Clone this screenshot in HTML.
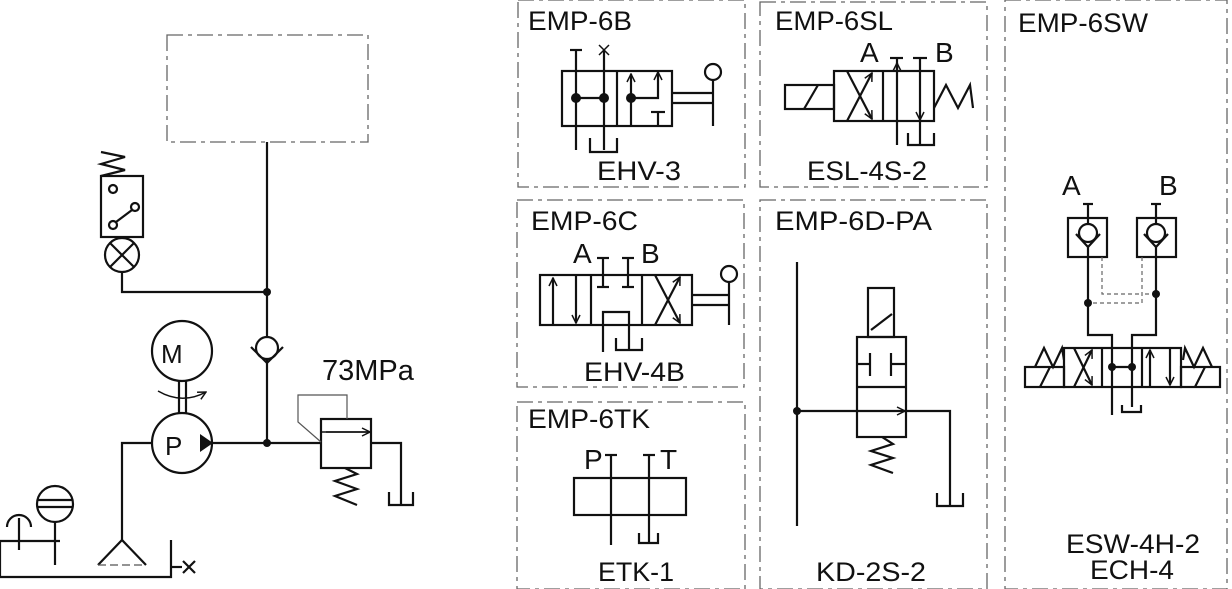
<!DOCTYPE html>
<html><head><meta charset="utf-8"><style>
html,body{margin:0;padding:0;background:#fff}
svg{display:block}
text{font-family:"Liberation Sans",sans-serif;fill:#111}
</style></head><body>
<svg width="1232" height="589" viewBox="0 0 1232 589" xmlns="http://www.w3.org/2000/svg">
<defs>
<marker id="ar" markerWidth="10" markerHeight="10" refX="9" refY="5" orient="auto" markerUnits="userSpaceOnUse"><path d="M1,1 L9,5 L1,9" fill="none" stroke="#111" stroke-width="1.5"/></marker>
</defs>
<g fill="none" stroke="#666" stroke-width="1.3" stroke-dasharray="16,5,4,5">
<rect x="167" y="35" width="201" height="107"/>
<rect x="518" y="0" width="227" height="187"/>
<rect x="760" y="2" width="227" height="185"/>
<rect x="1005" y="0" width="222" height="589"/>
<rect x="517" y="200" width="227" height="187"/>
<rect x="517" y="402" width="228" height="187"/>
<rect x="760" y="200" width="227" height="389"/>
</g>
<g fill="none" stroke="#111" stroke-width="2.2">
<line x1="267" y1="142" x2="267" y2="336"/>
<line x1="267" y1="360" x2="267" y2="443"/>
<polyline points="122,272 122,292 267,292"/>
<circle cx="122" cy="255" r="17"/>
<line x1="110" y1="243" x2="134" y2="267"/><line x1="134" y1="243" x2="110" y2="267"/>
<rect x="101" y="176" width="42" height="61"/>
<polyline points="101,152 125,157 101,164 125,170 101,176"/>
<circle cx="113" cy="189" r="4"/><circle cx="135" cy="207" r="4"/><circle cx="113" cy="225" r="4"/>
<line x1="116" y1="222" x2="132" y2="210"/>
<circle cx="267" cy="348" r="11"/>
<polyline points="251,347 267,363 283,347"/>
<circle cx="182" cy="351" r="30"/>
<line x1="179" y1="381" x2="179" y2="413"/><line x1="186" y1="381" x2="186" y2="413"/>
<path d="M158,391 Q182,405 206,392" marker-end="url(#ar)" stroke-width="1.5"/>
<circle cx="182" cy="443" r="30"/>
<line x1="212" y1="443" x2="321" y2="443"/>
<polyline points="152,443 122,443 122,540"/>
<polyline points="98,565 122,540 146,565"/>
<rect x="321" y="419" width="50" height="49"/>
<line x1="321" y1="432" x2="371" y2="432" stroke-width="1.5"/>
<line x1="326" y1="432" x2="370" y2="432" marker-end="url(#ar)" stroke-width="1.5"/>
<polyline points="371,443 401,443 401,505"/>
<polyline points="389,492 389,505 413,505 413,492"/>
<polyline points="345,468 357,474 335,481 357,489 335,496 357,505"/>
<polyline points="0,577 0,541 60,541"/>
<polyline points="0,577 171,577 171,540"/>
<line x1="171" y1="567" x2="182" y2="567"/>
<line x1="183" y1="561" x2="195" y2="573"/><line x1="195" y1="561" x2="183" y2="573"/>
<path d="M7,527 A12,12 0 0 1 31,527"/>
<line x1="19" y1="518" x2="19" y2="550"/>
<circle cx="55" cy="504" r="18"/>
<line x1="38" y1="500" x2="72" y2="500"/><line x1="38" y1="507" x2="72" y2="507"/>
<line x1="55" y1="522" x2="55" y2="565"/>
</g>
<polygon points="200,434 213,443 200,452" fill="#111"/>
<circle cx="267" cy="292" r="4" fill="#111"/><circle cx="267" cy="443" r="4" fill="#111"/>
<g fill="none" stroke="#555" stroke-width="1.2">
<line x1="98" y1="565" x2="146" y2="565" stroke-dasharray="8,4"/>
<polyline points="347,419 347,395 298,395 298,422 321,442"/>
</g>
<text x="161" y="363" font-size="26">M</text>
<text x="165" y="455" font-size="26">P</text>
<text x="322" y="380" font-size="29">73MPa</text>

<g fill="none" stroke="#111" stroke-width="2.2">
<rect x="562" y="71" width="110" height="55"/>
<line x1="617" y1="71" x2="617" y2="126"/>
<line x1="576" y1="50" x2="576" y2="150"/><line x1="570" y1="50" x2="582" y2="50"/>
<line x1="604" y1="50" x2="604" y2="150"/>
<line x1="599" y1="45" x2="609" y2="55" stroke-width="1.5"/><line x1="609" y1="45" x2="599" y2="55" stroke-width="1.5"/>
<line x1="576" y1="98" x2="604" y2="98"/>
<polyline points="590,138 590,152 617,152 617,138"/>
<line x1="631" y1="126" x2="631" y2="74" marker-end="url(#ar)"/>
<polyline points="631,98 658,98 658,72" marker-end="url(#ar)"/>
<line x1="658" y1="112" x2="658" y2="126"/><line x1="651" y1="112" x2="665" y2="112"/>
<line x1="672" y1="93" x2="713" y2="93"/><line x1="672" y1="103" x2="713" y2="103"/>
<line x1="713" y1="80" x2="713" y2="126"/>
<circle cx="713" cy="72" r="8"/>
</g>
<g fill="#111"><circle cx="576" cy="98" r="5"/><circle cx="604" cy="98" r="5"/><circle cx="631" cy="98" r="5"/></g>
<text x="528" y="30" font-size="27" textLength="104" lengthAdjust="spacingAndGlyphs">EMP-6B</text>
<text x="597" y="180" font-size="27" textLength="84" lengthAdjust="spacingAndGlyphs">EHV-3</text>

<g fill="none" stroke="#111" stroke-width="2.2">
<rect x="785" y="85" width="49" height="24"/>
<line x1="804" y1="109" x2="818" y2="85"/>
<rect x="834" y="71" width="100" height="50"/>
<line x1="883" y1="71" x2="883" y2="121"/>
<line x1="847" y1="71" x2="872" y2="119" marker-end="url(#ar)"/>
<line x1="847" y1="121" x2="872" y2="73" marker-end="url(#ar)"/>
<line x1="897" y1="145" x2="897" y2="63" marker-end="url(#ar)"/>
<line x1="897" y1="58" x2="897" y2="71"/>
<line x1="890" y1="58" x2="903" y2="58"/><line x1="913" y1="58" x2="927" y2="58"/>
<line x1="920" y1="58" x2="920" y2="120" marker-end="url(#ar)"/>
<polyline points="908,133 908,145 934,145 934,133"/>
<line x1="920" y1="120" x2="920" y2="145"/>
<polyline points="934,108 946,85 958,108 970,85 973,108"/>
</g>
<text x="860" y="62" font-size="28">A</text>
<text x="935" y="62" font-size="28">B</text>
<text x="775" y="30" font-size="27" textLength="118" lengthAdjust="spacingAndGlyphs">EMP-6SL</text>
<text x="807" y="180" font-size="27" textLength="120" lengthAdjust="spacingAndGlyphs">ESL-4S-2</text>

<g fill="none" stroke="#111" stroke-width="2.2">
<rect x="540" y="275" width="152" height="50"/>
<line x1="591" y1="275" x2="591" y2="325"/><line x1="642" y1="275" x2="642" y2="325"/>
<line x1="553" y1="325" x2="553" y2="278" marker-end="url(#ar)"/>
<line x1="576" y1="275" x2="576" y2="323" marker-end="url(#ar)"/>
<line x1="603" y1="258" x2="603" y2="287"/><line x1="597" y1="258" x2="609" y2="258"/><line x1="597" y1="287" x2="609" y2="287"/>
<line x1="628" y1="258" x2="628" y2="287"/><line x1="622" y1="258" x2="634" y2="258"/><line x1="622" y1="287" x2="634" y2="287"/>
<polyline points="603,352 603,312 629,312 629,350"/>
<polyline points="616,338 616,350 642,350 642,338"/>
<line x1="655" y1="275" x2="680" y2="323" marker-end="url(#ar)"/>
<line x1="655" y1="325" x2="680" y2="277" marker-end="url(#ar)"/>
<line x1="692" y1="295" x2="729" y2="295"/><line x1="692" y1="305" x2="729" y2="305"/>
<line x1="729" y1="282" x2="729" y2="325"/>
<circle cx="729" cy="274" r="8"/>
</g>
<text x="573" y="263" font-size="28">A</text>
<text x="641" y="263" font-size="28">B</text>
<text x="531" y="230" font-size="27" textLength="107" lengthAdjust="spacingAndGlyphs">EMP-6C</text>
<text x="584" y="381" font-size="27" textLength="101" lengthAdjust="spacingAndGlyphs">EHV-4B</text>

<g fill="none" stroke="#111" stroke-width="2.2">
<rect x="574" y="478" width="112" height="37"/>
<line x1="611" y1="455" x2="611" y2="545"/><line x1="605" y1="455" x2="617" y2="455"/>
<line x1="649" y1="455" x2="649" y2="543"/><line x1="643" y1="455" x2="655" y2="455"/>
<polyline points="639,533 639,543 658,543 658,533"/>
</g>
<text x="584" y="469" font-size="28">P</text>
<text x="660" y="469" font-size="28">T</text>
<text x="528" y="428" font-size="27" textLength="122" lengthAdjust="spacingAndGlyphs">EMP-6TK</text>
<text x="598" y="581" font-size="27" textLength="76" lengthAdjust="spacingAndGlyphs">ETK-1</text>

<g fill="none" stroke="#111" stroke-width="2.2">
<line x1="797" y1="262" x2="797" y2="526"/>
<rect x="868" y="288" width="26" height="49"/>
<line x1="871" y1="330" x2="892" y2="314"/>
<rect x="857" y="337" width="49" height="100"/>
<line x1="857" y1="387" x2="906" y2="387"/>
<line x1="857" y1="364" x2="870" y2="364"/><line x1="870" y1="353" x2="870" y2="376"/>
<line x1="891" y1="364" x2="906" y2="364"/><line x1="891" y1="353" x2="891" y2="376"/>
<line x1="797" y1="411" x2="905" y2="411" marker-end="url(#ar)"/>
<polyline points="906,411 950,411 950,506"/>
<polyline points="937,493 937,506 963,506 963,493"/>
<polyline points="882,437 893,444 871,451 893,458 871,465 893,473"/>
</g>
<circle cx="797" cy="411" r="4" fill="#111"/>
<text x="775" y="230" font-size="27" textLength="157" lengthAdjust="spacingAndGlyphs">EMP-6D-PA</text>
<text x="816" y="581" font-size="27" textLength="110" lengthAdjust="spacingAndGlyphs">KD-2S-2</text>

<g fill="none" stroke="#111" stroke-width="2.2">
<rect x="1068" y="218" width="39" height="39"/>
<rect x="1137" y="218" width="39" height="39"/>
<line x1="1088" y1="204" x2="1088" y2="224"/><line x1="1083" y1="204" x2="1093" y2="204"/>
<line x1="1156" y1="204" x2="1156" y2="224"/><line x1="1151" y1="204" x2="1161" y2="204"/>
<circle cx="1088" cy="233" r="9"/><polyline points="1076,234 1088,247 1100,234"/>
<circle cx="1156" cy="233" r="9"/><polyline points="1144,234 1156,247 1168,234"/>
<polyline points="1088,247 1088,335 1112,335 1112,415"/>
<polyline points="1156,247 1156,335 1132,335 1132,407"/>
<polyline points="1122,405 1122,412 1141,412 1141,405"/>
<rect x="1064" y="348" width="117" height="39"/>
<line x1="1102" y1="348" x2="1102" y2="387"/><line x1="1142" y1="348" x2="1142" y2="387"/>
<line x1="1074" y1="387" x2="1092" y2="350" marker-end="url(#ar)"/>
<line x1="1074" y1="348" x2="1092" y2="385" marker-end="url(#ar)"/>
<line x1="1112" y1="367" x2="1132" y2="367"/>
<line x1="1150" y1="387" x2="1150" y2="350" marker-end="url(#ar)"/>
<line x1="1170" y1="348" x2="1170" y2="385" marker-end="url(#ar)"/>
<rect x="1025" y="367" width="39" height="20"/>
<line x1="1040" y1="387" x2="1050" y2="367"/>
<polyline points="1035,367 1044,348 1053,367 1062,348 1064,360"/>
<rect x="1181" y="367" width="39" height="20"/>
<line x1="1195" y1="387" x2="1205" y2="367"/>
<polyline points="1183,360 1185,348 1194,367 1203,348 1212,367"/>
</g>
<g fill="none" stroke="#666" stroke-width="1.2" stroke-dasharray="4,3">
<polyline points="1102,257 1102,294 1140,294"/>
<polyline points="1142,257 1142,303 1088,303"/>
<line x1="1145" y1="294" x2="1156" y2="294"/>
</g>
<g fill="#111"><circle cx="1088" cy="303" r="4"/><circle cx="1156" cy="294" r="4"/><circle cx="1112" cy="367" r="4"/><circle cx="1132" cy="367" r="4"/></g>
<text x="1062" y="195" font-size="28">A</text>
<text x="1159" y="195" font-size="28">B</text>
<text x="1018" y="32" font-size="27" textLength="130" lengthAdjust="spacingAndGlyphs">EMP-6SW</text>
<text x="1066" y="553" font-size="27" textLength="134" lengthAdjust="spacingAndGlyphs">ESW-4H-2</text>
<text x="1090" y="579" font-size="27" textLength="84" lengthAdjust="spacingAndGlyphs">ECH-4</text>
</svg>
</body></html>
